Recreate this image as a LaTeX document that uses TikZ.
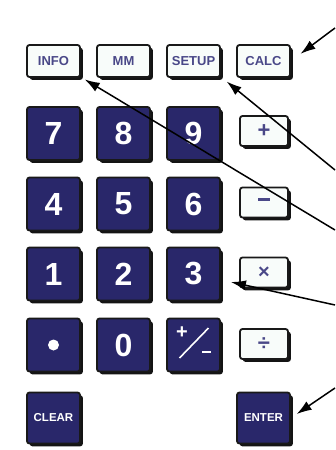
\documentclass[tikz,border=0pt]{standalone}
\usepackage{fontspec}
\setmainfont{Liberation Sans}
\usetikzlibrary{shadows,calc,arrows.meta}
\definecolor{navy}{HTML}{29276A}
\definecolor{keyink}{HTML}{4A4888}
\definecolor{keywhite}{HTML}{F8FCFA}
\tikzset{
  keybase/.style={rectangle, rounded corners=2.5pt, inner sep=0pt, line width=1.8pt, draw=black!90,
    general shadow={fill=black!92, shadow xshift=2.8pt, shadow yshift=-2.8pt}},
  digitkey/.style={keybase, fill=navy, text=white, minimum width=53pt, minimum height=53pt,
    font=\bfseries\fontsize{32}{32}\selectfont},
  wordkey/.style={keybase, fill=navy, text=white, minimum width=53pt, minimum height=51pt,
    font=\bfseries\fontsize{11.5}{11.5}\selectfont},
  topkey/.style={keybase, fill=keywhite, text=keyink, minimum width=53pt, minimum height=32pt,
    font=\bfseries\fontsize{13}{13}\selectfont},
  opkey/.style={keybase, fill=keywhite, text=keyink, minimum width=48pt, minimum height=30pt,
    font=\bfseries\fontsize{22}{22}\selectfont},
  arr/.style={draw=black, line width=1.5pt, -{Latex[length=15pt,width=10pt]}}
}
\begin{document}
\begin{tikzpicture}[x=1pt,y=-1pt]
\useasboundingbox (0,0) rectangle (335,450);
% top row
\node[topkey] (info)  at (53.5,61) {INFO};
\node[topkey] (mm)    at (123.5,61) {MM};
\node[topkey] (setup) at (193.5,61) {SETUP};
\node[topkey] (calc)  at (263.5,61) {CALC};
% digits
\node[digitkey] (k7) at (53.5,133.5) {7};
\node[digitkey] (k8) at (123.5,133.5) {8};
\node[digitkey] (k9) at (193.5,133.5) {9};
\node[digitkey] (k4) at (53.5,204) {4};
\node[digitkey] (k5) at (123.5,204) {5};
\node[digitkey] (k6) at (193.5,204) {6};
\node[digitkey] (k1) at (53.5,274) {1};
\node[digitkey] (k2) at (123.5,274) {2};
\node[digitkey] (k3) at (193.5,274) {3};
\node[digitkey] (kdot) at (53.5,345) {};
\fill[white] (kdot.center) circle (5.5pt);
\node[digitkey] (k0) at (123.5,345) {0};
\node[digitkey] (kpm) at (193.5,345) {};
\node[text=white, font=\bfseries\fontsize{20}{20}\selectfont] (pmplus) at ($(kpm.center)+(-11.5,-12)$) {+};
\node[text=white, font=\bfseries\fontsize{16}{16}\selectfont] (pmminus) at ($(kpm.center)+(13,9)$) {\rule[0.25em]{9pt}{2.8pt}};
\draw[white, line width=1.6pt] ($(kpm.center)+(-14,13)$) -- ($(kpm.center)+(15,-17)$);
% operators
\node[opkey] (kplus)  at (264,131) {+};
\node[opkey] (kminus) at (264,202.5) {\rule[0.3em]{12pt}{2.8pt}};
\node[opkey, font=\bfseries\fontsize{20}{20}\selectfont] (ktimes) at (264,272.5) {×};
\node[opkey] (kdiv)   at (264,344) {÷};
% bottom
\node[wordkey] (clear) at (53.5,418) {CLEAR};
\node[wordkey] (enter) at (263.5,418) {ENTER};
% arrow free ends
\coordinate (ecalc)  at (335,28);
\coordinate (einfo)  at (335,230);
\coordinate (esetup) at (335,170);
\coordinate (ethree) at (335,305);
\coordinate (eenter) at (335,388);
\draw[arr, shorten >=12pt] (ecalc) -- (calc.east);
\draw[arr, shorten >=1pt] (einfo) -- ($(info.south east)+(3,1)$);
\draw[arr, shorten >=1pt] (esetup) -- ($(setup.south east)+(5,3)$);
\draw[arr] (ethree) -- ($(k3.east)+(10,8)$);
\draw[arr, shorten >=7pt] (eenter) -- (enter.east);
\end{tikzpicture}
\end{document}
